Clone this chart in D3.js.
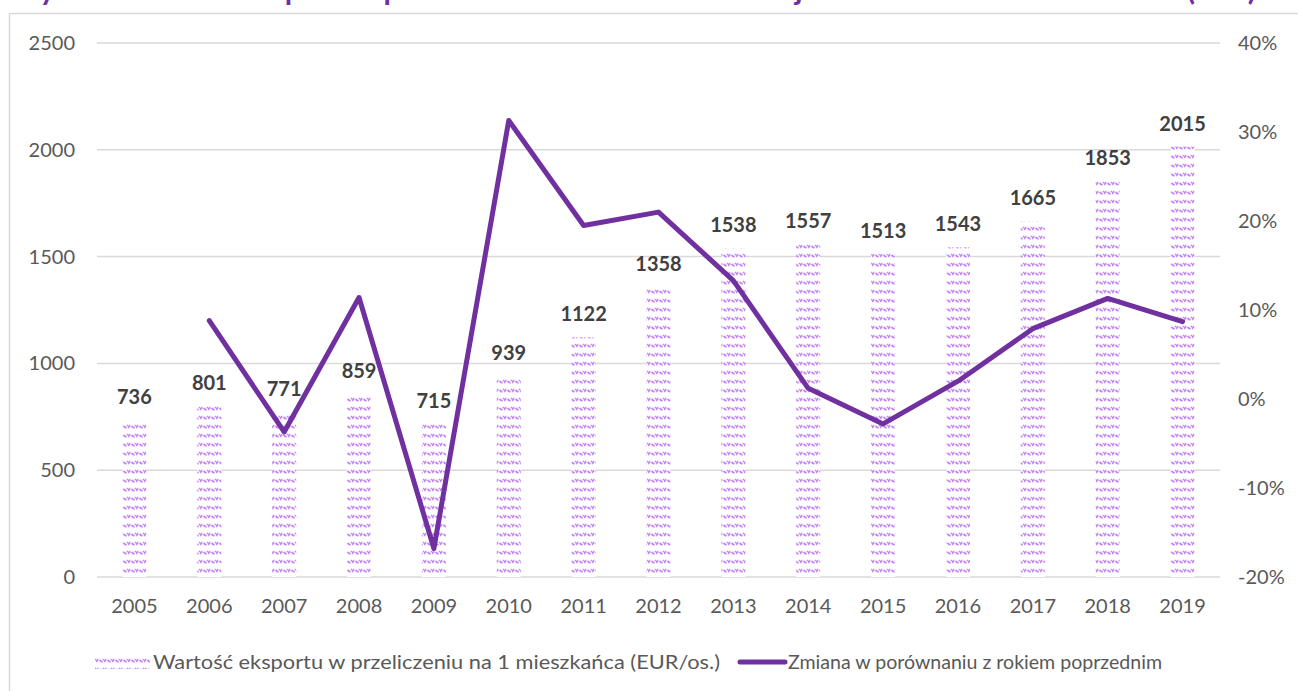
<!DOCTYPE html>
<html>
<head>
<meta charset="utf-8">
<script src="https://cdn.jsdelivr.net/npm/d3@7.9.0/dist/d3.min.js"></script>
<style>
  body { margin: 0; background: #fff; overflow: hidden; }
  svg { display: block; font-family: Lato, "Open Sans", sans-serif; }
</style>
</head>
<body>
<div id="chart"></div>
<script>
// chart data
const years = ["2005", "2006", "2007", "2008", "2009", "2010", "2011", "2012",
  "2013", "2014", "2015", "2016", "2017", "2018", "2019"];
const exportPerCapita = [736, 801, 771, 859, 715, 939, 1122, 1358, 1538, 1557,
  1513, 1543, 1665, 1853, 2015];
// % change vs previous year (no value for 2005)
const changePct = [null, 8.8, -3.7, 11.4, -16.8, 31.3, 19.5, 21.0, 13.3, 1.2,
  -2.8, 2.0, 7.9, 11.3, 8.7];
const leftTicks = [0, 500, 1000, 1500, 2000, 2500];
const rightTicks = [-20, -10, 0, 10, 20, 30, 40];
const barLabel = "Wartość eksportu w przeliczeniu na 1 mieszkańca (EUR/os.)";
const lineLabel = "Zmiana w porównaniu z rokiem poprzednim";
const titleText = "Wykres 4. Wartość eksportu w przeliczeniu na 1 mieszkańca w województwie w latach 2005-2019 (EUR)";

const width = 1298;
const height = 691;
const plot = { left: 97, right: 1220, top: 43, bottom: 577 };

const barColor = "#c585f7";
const lineColor = "#7030a0";
const gridColor = "#d9d9d9";
const textColor = "#595959";

const svg = d3.select("#chart").append("svg")
  .attr("width", width)
  .attr("height", height);

// wave pattern for bars
const defs = svg.append("defs");
const pat = defs.append("pattern")
  .attr("id", "wave")
  .attr("patternUnits", "userSpaceOnUse")
  .attr("width", 8)
  .attr("height", 9);
pat.append("rect").attr("width", 8).attr("height", 9).attr("fill", "#fff");
pat.append("path")
  .attr("d", "M0,5 Q2,1 4,3.5 Q6,6 8,2")
  .attr("fill", "none")
  .attr("stroke", barColor)
  .attr("stroke-width", 2)
  .attr("stroke-dasharray", "3.5,1.2");

// title: sits above the frame, only its lowest part shows
svg.append("text")
  .attr("x", 10)
  .attr("y", 0)
  .attr("textLength", 1246)
  .attr("lengthAdjust", "spacing")
  .attr("font-size", 30)
  .attr("font-weight", "bold")
  .attr("fill", lineColor)
  .text(titleText);

// chart frame
svg.append("rect")
  .attr("x", 9.5)
  .attr("y", 13.5)
  .attr("width", 1300)
  .attr("height", 700)
  .attr("fill", "#fff")
  .attr("stroke", gridColor)
  .attr("stroke-width", 1.5);

const x = d3.scaleBand()
  .domain(years)
  .range([plot.left, plot.right]);

const yLeft = d3.scaleLinear()
  .domain([0, 2500])
  .range([plot.bottom, plot.top]);

const yRight = d3.scaleLinear()
  .domain([-20, 40])
  .range([plot.bottom, plot.top]);

// gridlines
svg.append("g")
  .selectAll("line")
  .data(leftTicks)
  .join("line")
  .attr("x1", plot.left)
  .attr("x2", plot.right)
  .attr("y1", (d) => yLeft(d))
  .attr("y2", (d) => yLeft(d))
  .attr("stroke", gridColor)
  .attr("stroke-width", 1.5);

// left axis
const axisL = svg.append("g")
  .attr("transform", `translate(${plot.left - 22},0)`)
  .call(d3.axisLeft(yLeft).tickValues(leftTicks).tickSize(0).tickPadding(0)
    .tickFormat(d3.format("d")));
axisL.select(".domain").remove();
axisL.selectAll("text")
  .attr("font-size", 20)
  .attr("font-family", "Lato, sans-serif")
  .attr("fill", textColor);

// right axis
const axisR = svg.append("g")
  .attr("transform", `translate(${plot.right + 18},0)`)
  .call(d3.axisRight(yRight).tickValues(rightTicks).tickSize(0).tickPadding(0)
    .tickFormat((d) => d + "%"));
axisR.select(".domain").remove();
axisR.selectAll("text")
  .attr("font-size", 20)
  .attr("font-family", "Lato, sans-serif")
  .attr("fill", textColor);

// x axis
const axisX = svg.append("g")
  .attr("transform", `translate(0,${plot.bottom + 22})`)
  .call(d3.axisBottom(x).tickSize(0).tickPadding(0));
axisX.select(".domain").remove();
axisX.selectAll("text")
  .attr("font-size", 20)
  .attr("font-family", "Lato, sans-serif")
  .attr("fill", textColor);

// bars
const barW = 24;
svg.append("g")
  .selectAll("rect")
  .data(exportPerCapita)
  .join("rect")
  .attr("x", (d, i) => x(years[i]) + x.bandwidth() / 2 - barW / 2)
  .attr("y", (d) => yLeft(d))
  .attr("width", barW)
  .attr("height", (d) => yLeft(0) - yLeft(d))
  .attr("fill", "url(#wave)");

// bar labels
svg.append("g")
  .selectAll("text")
  .data(exportPerCapita)
  .join("text")
  .attr("x", (d, i) => x(years[i]) + x.bandwidth() / 2)
  .attr("y", (d) => yLeft(d) - 16)
  .attr("text-anchor", "middle")
  .attr("font-size", 20)
  .attr("font-weight", "bold")
  .attr("fill", "#404040")
  .text((d) => d);

// line
const line = d3.line()
  .defined((d) => d != null)
  .x((d, i) => x(years[i]) + x.bandwidth() / 2)
  .y((d) => yRight(d));

svg.append("path")
  .datum(changePct)
  .attr("d", line)
  .attr("fill", "none")
  .attr("stroke", lineColor)
  .attr("stroke-width", 5)
  .attr("stroke-linejoin", "round")
  .attr("stroke-linecap", "round");

// legend
const legY = 662;
svg.append("rect")
  .attr("x", 95)
  .attr("y", legY - 6)
  .attr("width", 55)
  .attr("height", 13)
  .attr("fill", "url(#wave)");
svg.append("text")
  .attr("x", 153)
  .attr("y", legY)
  .attr("dy", "0.35em")
  .attr("font-size", 20)
  .attr("textLength", 567)
  .attr("lengthAdjust", "spacingAndGlyphs")
  .attr("fill", textColor)
  .text(barLabel);
svg.append("line")
  .attr("x1", 740)
  .attr("x2", 785)
  .attr("y1", legY)
  .attr("y2", legY)
  .attr("stroke", lineColor)
  .attr("stroke-width", 5)
  .attr("stroke-linecap", "round");
svg.append("text")
  .attr("x", 788)
  .attr("y", legY)
  .attr("dy", "0.35em")
  .attr("font-size", 20)
  .attr("textLength", 374)
  .attr("lengthAdjust", "spacingAndGlyphs")
  .attr("fill", textColor)
  .text(lineLabel);
</script>
</body>
</html>
